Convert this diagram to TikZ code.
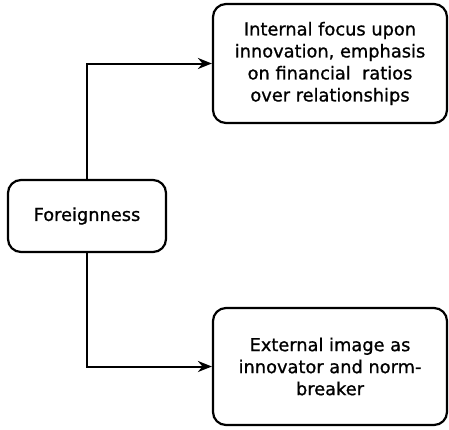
\documentclass[tikz,border=0pt]{standalone}
\usepackage{fontspec}
\setmainfont{DejaVu Sans}[BoldFont=DejaVu Sans, BoldFeatures={FakeBold=1}]
\usetikzlibrary{arrows.meta}
\begin{document}
\begin{tikzpicture}[x=1pt,y=-1pt,
  box/.style={draw, line width=2.2pt, rounded corners=13pt, align=center,
    font=\fontsize{17.8pt}{22pt}\selectfont\bfseries, inner sep=0pt},
  link/.style={line width=2pt, -{Stealth[length=14pt,width=11pt]}}]
  \useasboundingbox (0,0) rectangle (449,429);
  \node[box, minimum width=158pt, minimum height=72pt] (f) at (87,216) {Foreignness};
  \node[box, minimum width=234pt, minimum height=119pt] (t) at (330,63.5)
    {Internal focus upon\\innovation, emphasis\\on financial\ \ ratios\\over relationships};
  \node[box, minimum width=234pt, minimum height=117pt] (b) at (330,366.5)
    {External image as\\innovator and norm-\\breaker};
  \draw[link] (f.north) |- (t.west);
  \draw[link] (f.south) |- (b.west);
\end{tikzpicture}
\end{document}
